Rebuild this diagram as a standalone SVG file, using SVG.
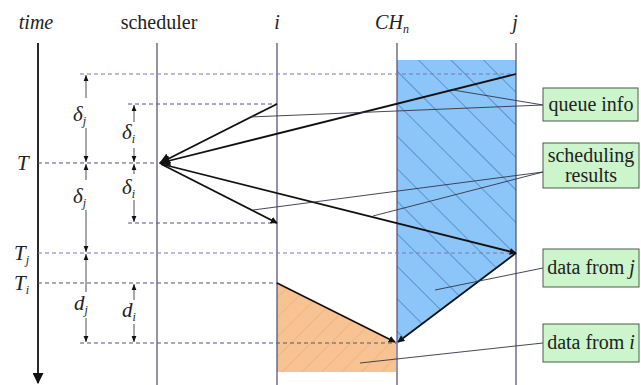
<svg xmlns="http://www.w3.org/2000/svg" width="641" height="385" viewBox="0 0 641 385">
<style>
text{font-family:"Liberation Serif","DejaVu Serif","Noto Serif",serif}
.t{font-size:20px;fill:#222}
.it{font-style:italic}
.sub{font-size:12px;font-style:italic}
.big{font-size:21px}
.lane{stroke:#4a4a78;stroke-width:1.2;fill:none}
.dash{stroke:#55557a;stroke-width:1;stroke-dasharray:4,3;fill:none}
.dashb{stroke:#7878c0;stroke-width:1.2;stroke-dasharray:4,3;fill:none}
.arr{stroke:#111;stroke-width:1.8;fill:none}
.dim{stroke:#222;stroke-width:0.8;fill:none}
.lead{stroke:#334;stroke-width:0.9;fill:none}
.box{fill:#ccf5cc;stroke:#4a5a4a;stroke-width:1}
</style>
<defs>
<marker id="ah" viewBox="0 0 10 10" refX="9" refY="5" markerWidth="7" markerHeight="7" markerUnits="userSpaceOnUse" orient="auto"><path d="M0,0 L10,5 L0,10 z" fill="#111"/></marker>
<marker id="ahb" viewBox="0 0 10 10" refX="9" refY="5" markerWidth="11" markerHeight="11" markerUnits="userSpaceOnUse" orient="auto"><path d="M0,0 L10,5 L0,10 z" fill="#111"/></marker>
<marker id="dh" viewBox="0 0 10 10" refX="10" refY="5" markerWidth="6" markerHeight="6" markerUnits="userSpaceOnUse" orient="auto"><path d="M0,1 L10,5 L0,9 z" fill="#111"/></marker>
<pattern id="hb" patternUnits="userSpaceOnUse" width="23" height="23" patternTransform="rotate(-45)"><line x1="0" y1="0" x2="0" y2="23" stroke="#3f6fb8" stroke-width="1.2"/></pattern>
<pattern id="ho" patternUnits="userSpaceOnUse" width="14" height="14" patternTransform="rotate(45)"><line x1="0" y1="0" x2="0" y2="14" stroke="#e8a878" stroke-width="1"/></pattern>
</defs>

<!-- regions -->
<g id="chn-data-j">
<polygon points="397,60 516,60 516,253 397,342" fill="#8cc6f8"/>
<polygon points="397,60 516,60 516,253 397,342" fill="url(#hb)"/>
</g>
<g id="chn-data-i">
<polygon points="277,283 396,342 396,372 277,372" fill="#f8c392"/>
<polygon points="277,283 396,342 396,372 277,372" fill="url(#ho)"/>
</g>

<!-- headers -->
<g id="headers">
<text class="t it" x="36" y="29" text-anchor="middle">time</text>
<text class="t" x="159" y="29" text-anchor="middle">scheduler</text>
<text class="t it" x="277" y="29" text-anchor="middle">i</text>
<text class="t it" x="392" y="29" text-anchor="middle">CH<tspan class="sub" dy="4">n</tspan></text>
<text class="t it" x="515" y="29" text-anchor="middle">j</text>
</g>

<!-- lanes -->
<g id="lanes">
<line x1="38" y1="43" x2="38" y2="383" stroke="#111" stroke-width="1.8" marker-end="url(#ahb)"/>
<line class="lane" x1="157" y1="43" x2="157" y2="385"/>
<line class="lane" x1="277" y1="43" x2="277" y2="385"/>
<line class="lane" x1="397" y1="43" x2="397" y2="385"/>
<line class="lane" x1="516" y1="43" x2="516" y2="385"/>
</g>

<!-- time labels -->
<g id="time-labels">
<text class="t it big" x="17" y="170">T</text>
<text class="t it big" x="14" y="260">T<tspan class="sub" dy="4">j</tspan></text>
<text class="t it big" x="14" y="290">T<tspan class="sub" dy="4">i</tspan></text>
</g>

<!-- dashed guides -->
<g id="guides">
<line class="dashb" x1="80" y1="74" x2="516" y2="74"/>
<line class="dash" x1="128" y1="104" x2="277" y2="104"/>
<line class="dash" x1="38" y1="163" x2="157" y2="163"/>
<line class="dash" x1="128" y1="223" x2="277" y2="223"/>
<line class="dashb" x1="38" y1="253" x2="516" y2="253"/>
<line class="dash" x1="38" y1="283" x2="277" y2="283"/>
<line class="dash" x1="80" y1="343" x2="397" y2="343"/>
</g>

<!-- dimensions -->
<g id="dimensions">
<line class="dim" x1="86" y1="98" x2="86" y2="75" marker-end="url(#dh)"/>
<line class="dim" x1="86" y1="128" x2="86" y2="162" marker-end="url(#dh)"/>
<line class="dim" x1="86" y1="180" x2="86" y2="164" marker-end="url(#dh)"/>
<line class="dim" x1="86" y1="210" x2="86" y2="252" marker-end="url(#dh)"/>
<line class="dim" x1="86" y1="292" x2="86" y2="254" marker-end="url(#dh)"/>
<line class="dim" x1="86" y1="318" x2="86" y2="342" marker-end="url(#dh)"/>
<line class="dim" x1="134" y1="122" x2="134" y2="105" marker-end="url(#dh)"/>
<line class="dim" x1="134" y1="148" x2="134" y2="162" marker-end="url(#dh)"/>
<line class="dim" x1="134" y1="174" x2="134" y2="164" marker-end="url(#dh)"/>
<line class="dim" x1="134" y1="200" x2="134" y2="222" marker-end="url(#dh)"/>
<line class="dim" x1="134" y1="300" x2="134" y2="284" marker-end="url(#dh)"/>
<line class="dim" x1="134" y1="324" x2="134" y2="342" marker-end="url(#dh)"/>
<text class="t it big" x="73" y="121">δ<tspan class="sub" dy="4">j</tspan></text>
<text class="t it big" x="122" y="139">δ<tspan class="sub" dy="4">i</tspan></text>
<text class="t it big" x="73" y="203">δ<tspan class="sub" dy="4">j</tspan></text>
<text class="t it big" x="122" y="194">δ<tspan class="sub" dy="4">i</tspan></text>
<text class="t it big" x="74" y="310">d<tspan class="sub" dy="4">j</tspan></text>
<text class="t it big" x="122" y="317">d<tspan class="sub" dy="4">i</tspan></text>
</g>

<!-- connectors -->
<g id="connectors">
<line class="arr" x1="516" y1="74" x2="160" y2="163" marker-end="url(#ahb)"/>
<line class="arr" x1="277" y1="104" x2="160" y2="163" marker-end="url(#ahb)"/>
<line class="arr" x1="161" y1="164" x2="277" y2="223" marker-end="url(#ah)"/>
<line class="arr" x1="161" y1="164" x2="516" y2="253" marker-end="url(#ah)"/>
<line class="arr" x1="277" y1="283" x2="395" y2="342" marker-end="url(#ah)"/>
<line class="arr" x1="516" y1="253" x2="398" y2="342" marker-end="url(#ah)"/>
<line class="lead" x1="543" y1="105" x2="453" y2="90"/>
<line class="lead" x1="543" y1="105" x2="250" y2="117"/>
<line class="lead" x1="543" y1="172" x2="253" y2="210"/>
<line class="lead" x1="543" y1="172" x2="373" y2="216"/>
<line class="lead" x1="543" y1="268" x2="435" y2="290"/>
<line class="lead" x1="543" y1="343" x2="360" y2="363"/>
</g>

<!-- label boxes -->
<g id="queue-info">
<rect class="box" x="543" y="88" width="95" height="33"/>
<text class="t" x="591" y="111" text-anchor="middle">queue info</text>
</g>
<g id="scheduling-results">
<rect class="box" x="543" y="143" width="96" height="45"/>
<text class="t" x="591" y="162" text-anchor="middle">scheduling</text>
<text class="t" x="591" y="182" text-anchor="middle">results</text>
</g>
<g id="data-from-j">
<rect class="box" x="543" y="249" width="96" height="38"/>
<text class="t" x="591" y="274" text-anchor="middle">data from <tspan class="it">j</tspan></text>
</g>
<g id="data-from-i">
<rect class="box" x="543" y="324" width="96" height="38"/>
<text class="t" x="591" y="349" text-anchor="middle">data from <tspan class="it">i</tspan></text>
</g>
</svg>
